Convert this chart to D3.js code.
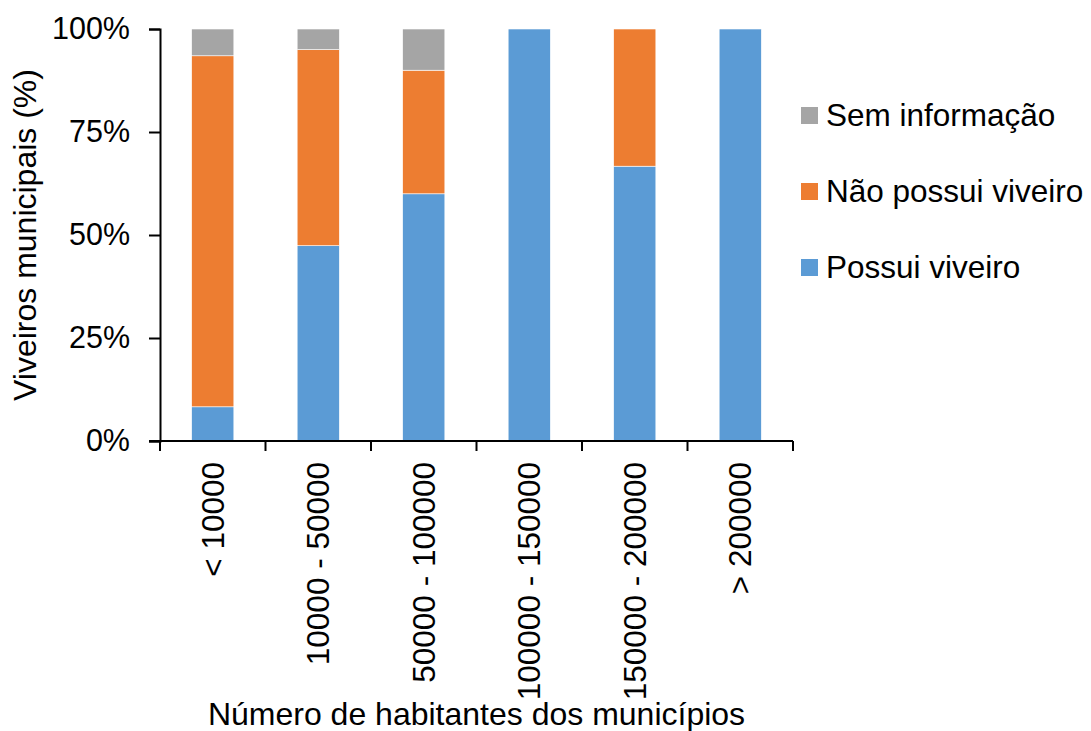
<!DOCTYPE html>
<html>
<head>
<meta charset="utf-8">
<script src="https://cdn.jsdelivr.net/npm/d3@7"></script>
<style>
  body { margin: 0; background: #fff; }
  text { font-family: "Liberation Sans", Arial, sans-serif; fill: #000; }
</style>
</head>
<body>
<div id="viz"></div>
<script>
const w = 1091;
const h = 731;

// categories (population size classes)
const categories = ['< 10000', '10000 - 50000', '50000 - 100000', '100000 - 150000', '150000 - 200000', '> 200000'];
// percentage of municipalities in each class
const possui = [8.3, 47.4, 60.0, 100, 66.7, 100];
const naoPossui = [85.2, 47.6, 30.0, 0, 33.3, 0];
const semInfo = [6.5, 5.0, 10.0, 0, 0, 0];
const seriesNames = ['Possui viveiro', 'Não possui viveiro', 'Sem informação'];
const yTicks = [0, 25, 50, 75, 100];

const colors = ['#5B9BD5', '#ED7D31', '#A5A5A5'];

const plotLeft = 160, plotRight = 793, plotTop = 29, plotBottom = 441;

const svg = d3.select('#viz').append('svg')
    .attr('width', w)
    .attr('height', h)

const x = d3.scaleBand()
    .domain(categories)
    .range([plotLeft, plotRight])
    .paddingInner(0.6)
    .paddingOuter(0.3)

const y = d3.scaleLinear()
    .domain([0, 100])
    .range([plotBottom, plotTop])

// stacked data
const rows = categories.map((c, i) => ({
    cat: c,
    'Possui viveiro': possui[i],
    'Não possui viveiro': naoPossui[i],
    'Sem informação': semInfo[i]
}))
const stacked = d3.stack().keys(seriesNames)(rows)

svg.append('g')
    .selectAll('g')
    .data(stacked)
    .join('g')
    .attr('fill', (d, i) => colors[i])
    .selectAll('rect')
    .data(d => d.filter(p => p[1] - p[0] > 0))
    .join('rect')
    .attr('x', d => x(d.data.cat))
    .attr('width', x.bandwidth())
    .attr('y', d => y(d[1]))
    .attr('height', d => y(d[0]) - y(d[1]))
    .attr('stroke', '#fff')
    .attr('stroke-width', 0.6)

// y axis
const yAxis = svg.append('g')
    .attr('transform', `translate(${plotLeft},0)`)
    .call(d3.axisLeft(y).tickValues(yTicks).tickFormat(d => d + '%').tickSize(11).tickPadding(19))
yAxis.select('.domain').attr('stroke', '#000').attr('stroke-width', 2)
yAxis.selectAll('.tick line').attr('stroke', '#000').attr('stroke-width', 2)
yAxis.selectAll('.tick text')
    .style('font-size', '30.5px')
    .attr('font-family', null)

// x axis, ticks at category boundaries
const bounds = d3.range(categories.length + 1).map(i => plotLeft + i * (plotRight - plotLeft) / categories.length)
const xAxisG = svg.append('g')
xAxisG.append('line')
    .attr('x1', plotLeft - 11).attr('x2', plotRight)
    .attr('y1', plotBottom).attr('y2', plotBottom)
    .attr('stroke', '#000').attr('stroke-width', 2)
xAxisG.selectAll('.xt')
    .data(bounds)
    .join('line')
    .attr('x1', d => d).attr('x2', d => d)
    .attr('y1', plotBottom).attr('y2', plotBottom + 10)
    .attr('stroke', '#000').attr('stroke-width', 2)

xAxisG.selectAll('.xl')
    .data(categories)
    .join('text')
    .attr('transform', d => `translate(${x(d) + x.bandwidth() / 2},462) rotate(-90)`)
    .attr('text-anchor', 'end')
    .attr('dy', '0.35em')
    .style('font-size', '31.5px')
    .text(d => d)

// axis titles
svg.append('text')
    .attr('x', (plotLeft + plotRight) / 2)
    .attr('y', 725)
    .attr('text-anchor', 'middle')
    .style('font-size', '32px')
    .text('Número de habitantes dos municípios')

svg.append('text')
    .attr('transform', `translate(36,${(plotTop + plotBottom) / 2}) rotate(-90)`)
    .attr('text-anchor', 'middle')
    .style('font-size', '32px')
    .text('Viveiros municipais (%)')

// legend (top to bottom: sem info, não possui, possui)
const legendItems = seriesNames.map((n, i) => ({ name: n, color: colors[i] })).reverse()
const legend = svg.append('g')
    .attr('transform', 'translate(801,107)')
const li = legend.selectAll('g')
    .data(legendItems)
    .join('g')
    .attr('transform', (d, i) => `translate(0,${i * 76})`)
li.append('rect')
    .attr('width', 17)
    .attr('height', 17)
    .attr('fill', d => d.color)
li.append('text')
    .attr('x', 25)
    .attr('y', 19)
    .style('font-size', '31.5px')
    .text(d => d.name)
</script>
</body>
</html>
